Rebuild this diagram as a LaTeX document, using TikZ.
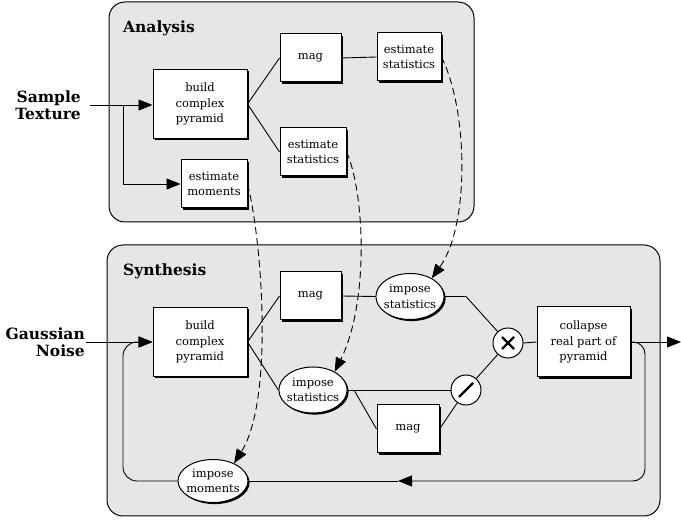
\documentclass[tikz,border=0pt]{standalone}
\usepackage{fontspec}
\setmainfont{DejaVu Serif}
\usetikzlibrary{shapes.geometric,shadows,arrows.meta}
\definecolor{panel}{RGB}{230,230,230}
\newcommand{\lbl}{\fontsize{11.5}{15.5}\selectfont}
\newcommand{\ttl}{\fontsize{15.5}{17.5}\selectfont\bfseries}
\tikzset{
  panelbox/.style={draw, line width=1pt, fill=panel, rounded corners=16pt},
  shade/.style={drop shadow={shadow xshift=1.6pt, shadow yshift=-1.6pt, fill=black, opacity=1}},
  stage/.style={draw, line width=1pt, fill=white, align=center, font=\lbl, inner sep=1pt, shade},
  impose/.style={ellipse, draw, line width=1pt, fill=white, align=center, font=\lbl, inner xsep=-2pt, inner ysep=2pt, minimum width=68pt, minimum height=46pt, shade},
  op/.style={circle, draw, line width=1pt, fill=white, minimum size=30pt, inner sep=0pt},
  mult/.style={op, path picture={\draw[line width=2.4pt] ([shift={(-6pt,-6pt)}]path picture bounding box.center) -- ([shift={(6pt,6pt)}]path picture bounding box.center) ([shift={(-6pt,6pt)}]path picture bounding box.center) -- ([shift={(6pt,-6pt)}]path picture bounding box.center);}},
  divi/.style={op, path picture={\draw[line width=2.4pt] ([shift={(-7pt,-7pt)}]path picture bounding box.center) -- ([shift={(7pt,7pt)}]path picture bounding box.center);}},
  wire/.style={line width=0.9pt},
  feed/.style={wire, -{Triangle[length=14pt,width=11pt]}},
  est/.style={wire, dash pattern=on 7pt off 4pt, -{Triangle[length=14pt,width=11pt]}},
}

\begin{document}
\begin{tikzpicture}[x=1pt,y=-1pt]
\useasboundingbox (0,0) rectangle (681,521);

% the two panels
\draw[panelbox] (109,2) rectangle (474,222);
\draw[panelbox] (107,245) rectangle (660,516);
\node[font=\ttl, anchor=base west, inner sep=0pt] (aname) at (123,33) {Analysis};
\node[font=\ttl, anchor=base west, inner sep=0pt] (sname) at (123,276) {Synthesis};

% analysis
\node[font=\ttl, align=right, anchor=east, inner xsep=9pt] (sample) at (90,105) {Sample\\Texture};
\node[stage, minimum width=94pt, minimum height=69pt] (abuild) at (200,104) {build\\complex\\pyramid};
\node[stage, minimum width=61pt, minimum height=48pt] (amag) at (310.5,58) {mag};
\node[stage, minimum width=64pt, minimum height=48pt] (aest1) at (409,57) {estimate\\statistics};
\node[stage, minimum width=66pt, minimum height=48pt] (aest2) at (313,152) {estimate\\statistics};
\node[stage, minimum width=66pt, minimum height=48pt] (amom) at (214,184) {estimate\\moments};
\coordinate (split) at (123,105);

\draw[feed] (sample.east) -- (abuild.west |- split);
\draw[feed] (split) |- (amom.west);
\draw[wire] (abuild.east) -- (amag.west);
\draw[wire] (abuild.east) -- (aest2.west);
\draw[wire] (amag.east) -- (aest1.west);

% synthesis
\node[font=\ttl, align=right, anchor=east, inner xsep=1pt] (noise) at (86,342) {Gaussian\\Noise};
\node[stage, minimum width=94pt, minimum height=69pt] (sbuild) at (200,342) {build\\complex\\pyramid};
\node[stage, minimum width=61pt, minimum height=48pt] (smag1) at (310.5,296) {mag};
\node[impose] (simp1) at (410,296.5) {impose\\statistics};
\node[impose] (simp2) at (313,390) {impose\\statistics};
\node[stage, minimum width=62pt, minimum height=48pt] (smag2) at (408,429) {mag};
\node[mult] (times) at (508,343) {};
\node[divi] (slash) at (466,390) {};
\node[stage, minimum width=93pt, minimum height=70pt] (collapse) at (583.5,342) {collapse\\real part of\\pyramid};
\node[impose, minimum height=43pt] (smom) at (213,481) {impose\\moments};
\coordinate (bend) at (466,296.5);
\coordinate (fork) at (354,390);
\coordinate (ret) at (398,481);
\coordinate (out) at (681,342);

\draw[feed] (noise.east) -- (sbuild.west);
\draw[wire] (sbuild.east) -- (smag1.west);
\draw[wire] (sbuild.east) -- (simp2.west);
\draw[wire] (smag1.east) -- (simp1.west);
\draw[wire] (simp1.east) -- (bend) -- (times);
\draw[wire] (simp2.east) -- (slash.west);
\draw[wire] (fork) -- (smag2.west);
\draw[wire] (smag2.east) -- (slash);
\draw[wire] (slash) -- (times);
\draw[wire] (times.east) -- (collapse.west);
\draw[feed] (collapse.east) -- (out);
\draw[feed, rounded corners=12pt] (collapse.east) -- (645,342) -- (645,481) -- (ret);
\draw[wire] (ret) -- (smom.east);
\draw[feed, rounded corners=14pt] (smom.west) -| (123,342) -- (sbuild.west);

% statistics handed over
\draw[est] (aest1.east) .. controls (468,110) and (470,225) .. (simp1.40);
\draw[est] (aest2.east) .. controls (364,190) and (370,300) .. (simp2.40);
\draw[est] (amom.east) .. controls (262,240) and (274,400) .. (smom.40);
\end{tikzpicture}
\end{document}
